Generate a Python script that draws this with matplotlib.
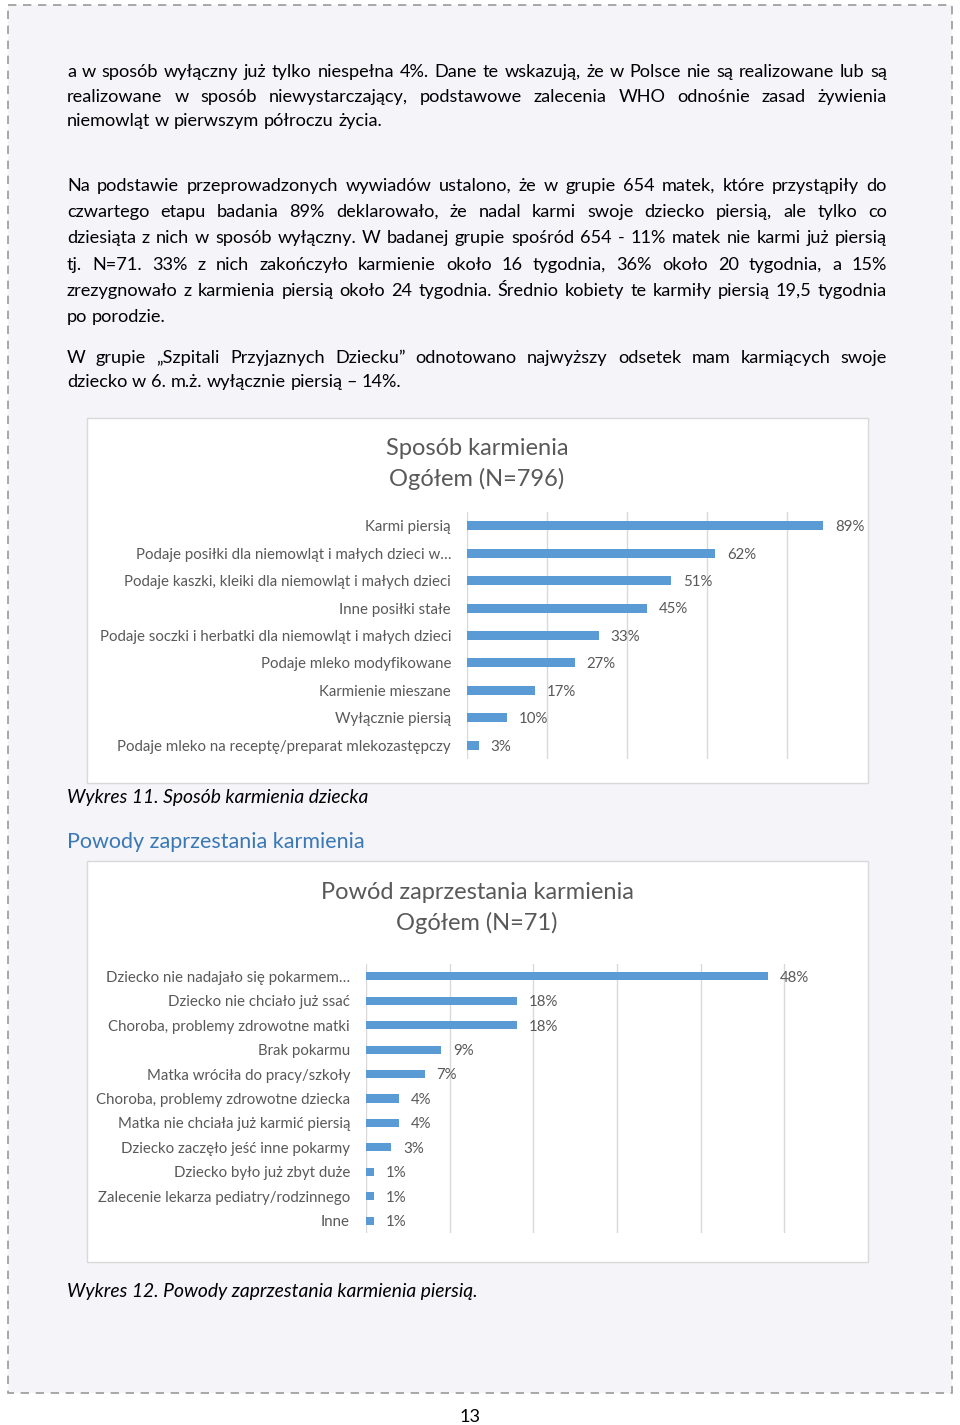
import matplotlib
matplotlib.use("Agg")
import matplotlib.pyplot as plt
from matplotlib.patches import Rectangle

# ---------------- data ----------------
chart1_title = "Sposób karmienia\nOgółem (N=796)"
chart1_categories = [
    "Karmi piersią",
    "Podaje posiłki dla niemowląt i małych dzieci w…",
    "Podaje kaszki, kleiki dla niemowląt i małych dzieci",
    "Inne posiłki stałe",
    "Podaje soczki i herbatki dla niemowląt i małych dzieci",
    "Podaje mleko modyfikowane",
    "Karmienie mieszane",
    "Wyłącznie piersią",
    "Podaje mleko na receptę/preparat mlekozastępczy",
]
chart1_values = [89, 62, 51, 45, 33, 27, 17, 10, 3]
chart1_ticks = [0, 20, 40, 60, 80]

chart2_title = "Powód zaprzestania karmienia\nOgółem (N=71)"
chart2_categories = [
    "Dziecko nie nadajało się pokarmem…",
    "Dziecko nie chciało już ssać",
    "Choroba, problemy zdrowotne matki",
    "Brak pokarmu",
    "Matka wróciła do pracy/szkoły",
    "Choroba, problemy zdrowotne dziecka",
    "Matka nie chciała już karmić piersią",
    "Dziecko zaczęło jeść inne pokarmy",
    "Dziecko było już zbyt duże",
    "Zalecenie lekarza pediatry/rodzinnego",
    "Inne",
]
chart2_values = [48, 18, 18, 9, 7, 4, 4, 3, 1, 1, 1]
chart2_ticks = [0, 10, 20, 30, 40, 50]

para1 = [
    ("a w sposób wyłączny już tylko niespełna 4%. Dane te wskazują, że w Polsce nie są realizowane lub są", True),
    ("realizowane w sposób niewystarczający, podstawowe zalecenia WHO odnośnie zasad żywienia", True),
    ("niemowląt w pierwszym półroczu życia.", False),
]
para2 = [
    ("Na podstawie przeprowadzonych wywiadów ustalono, że w grupie 654 matek, które przystąpiły do", True),
    ("czwartego etapu badania 89% deklarowało, że nadal karmi swoje dziecko piersią, ale tylko co", True),
    ("dziesiąta z nich w sposób wyłączny. W badanej grupie spośród 654 - 11% matek nie karmi już piersią", True),
    ("tj. N=71. 33% z nich zakończyło karmienie około 16 tygodnia, 36% około 20 tygodnia, a 15%", True),
    ("zrezygnowało z karmienia piersią około 24 tygodnia. Średnio kobiety te karmiły piersią 19,5 tygodnia", True),
    ("po porodzie.", False),
]
para3 = [
    ("W grupie „Szpitali Przyjaznych Dziecku” odnotowano najwyższy odsetek mam karmiących swoje", True),
    ("dziecko w 6. m.ż. wyłącznie piersią – 14%.", False),
]
caption1 = "Wykres 11. Sposób karmienia dziecka"
heading2 = "Powody zaprzestania karmienia"
caption2 = "Wykres 12. Powody zaprzestania karmienia piersią."
page_number = "13"

# ---------------- style ----------------
FONT = ["Lato", "DejaVu Sans"]
plt.rcParams["font.family"] = FONT
W, H = 960, 1425
BAR = "#5b9bd5"
GRID = "#d9d9d9"
GRAYTXT = "#595959"
PAGEBG = "#f4f4f9"

fig = plt.figure(figsize=(W / 100, H / 100), dpi=100)
fig.patch.set_facecolor("white")
bg = fig.add_axes([0, 0, 1, 1])
bg.set_xlim(0, W)
bg.set_ylim(H, 0)
bg.axis("off")

# page area with dashed border
bg.add_patch(Rectangle((8, 5), 944, 1388, facecolor=PAGEBG, edgecolor="#9a9a9a",
                       linewidth=1.2, linestyle=(0, (5, 4)), zorder=0))

renderer = fig.canvas.get_renderer()
BODY_SIZE = 13.1
CAP_SIZE = 13.9
LABEL_SIZE = 10.85
X0, X1 = 67, 887


def draw_line(text, y, justify, size=BODY_SIZE):
    words = text.split()
    ts = [bg.text(0, y, w, fontsize=size, color="black", va="baseline", ha="left") for w in words]
    widths = [t.get_window_extent(renderer).width for t in ts]
    if justify and len(words) > 1:
        gap = (X1 - X0 - sum(widths)) / (len(words) - 1)
    else:
        a = bg.text(0, 0, "a a", fontsize=size)
        b = bg.text(0, 0, "aa", fontsize=size)
        gap = a.get_window_extent(renderer).width - b.get_window_extent(renderer).width
        a.remove()
        b.remove()
    x = X0
    for t, w in zip(ts, widths):
        t.set_x(x)
        x += w + gap


for (line, j), y in zip(para1, [77, 102, 126]):
    draw_line(line, y, j)
for (line, j), y in zip(para2, [191, 217, 243, 270, 296, 322]):
    draw_line(line, y, j)
for (line, j), y in zip(para3, [363, 387]):
    draw_line(line, y, j)

bg.text(67, 803, caption1, fontsize=CAP_SIZE, style="italic", va="baseline")
bg.text(67, 848, heading2, fontsize=15.5, color="#3a78b5", va="baseline")
bg.text(67, 1297, caption2, fontsize=CAP_SIZE, style="italic", va="baseline")
bg.text(470, 1422, page_number, fontsize=BODY_SIZE, ha="center", va="baseline")

# chart boxes
bg.add_patch(Rectangle((87, 418), 781, 365, facecolor="white", edgecolor="#d9d9d9", linewidth=1, zorder=1))
bg.add_patch(Rectangle((87, 861), 781, 401, facecolor="white", edgecolor="#d9d9d9", linewidth=1, zorder=1))
bg.text(477, 464, chart1_title, fontsize=17, color=GRAYTXT, ha="center", va="center",
        linespacing=1.5, zorder=2)
bg.text(477, 908, chart2_title, fontsize=17, color=GRAYTXT, ha="center", va="center",
        linespacing=1.5, zorder=2)


def make_chart(left, right, top, bottom, cats, vals, ticks, xmax):
    ax = fig.add_axes([left / W, 1 - bottom / H, (right - left) / W, (bottom - top) / H])
    ax.set_facecolor("none")
    n = len(cats)
    ax.barh(range(n), vals, height=0.33, color=BAR, zorder=3)
    ax.set_xlim(0, xmax)
    ax.set_ylim(n - 0.5, -0.5)
    ax.set_xticks(ticks)
    ax.set_xticklabels([])
    ax.set_yticks(range(n))
    ax.set_yticklabels(cats, fontsize=LABEL_SIZE, color=GRAYTXT)
    ax.tick_params(axis="both", length=0)
    ax.tick_params(axis="y", pad=11.5)
    ax.grid(axis="x", color=GRID, linewidth=1, zorder=0)
    for s in ax.spines.values():
        s.set_visible(False)
    for i, v in enumerate(vals):
        ax.annotate(f"{v}%", (v, i), xytext=(8.5, -1), textcoords="offset points",
                    va="center", ha="left", fontsize=LABEL_SIZE, color=GRAYTXT)
    return ax


make_chart(467, 867, 512, 759, chart1_categories, chart1_values, chart1_ticks, 100)
make_chart(366, 868, 964, 1233, chart2_categories, chart2_values, chart2_ticks, 60)

fig.savefig("out.png", dpi=100, facecolor="white")
